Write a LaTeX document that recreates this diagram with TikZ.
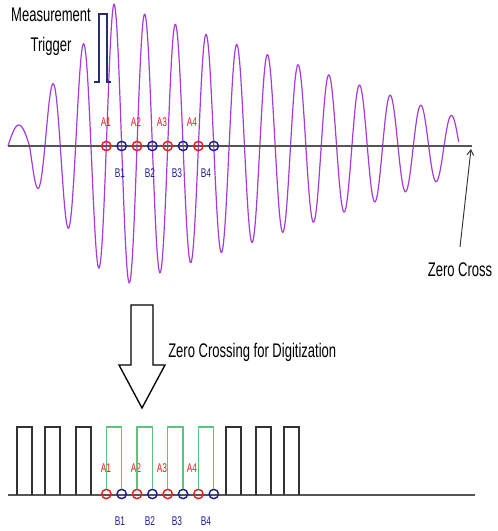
\documentclass[tikz,border=0pt]{standalone}
\usepackage{fontspec}
\setmainfont{Liberation Sans}
\newfontfamily\narrowfont[FakeStretch=0.66]{Liberation Sans}
\usetikzlibrary{arrows.meta}

\definecolor{wavepurple}{RGB}{165,60,215}
\definecolor{axisgrey}{RGB}{85,85,85}
\definecolor{crossred}{RGB}{235,30,30}
\definecolor{crossblue}{RGB}{30,30,150}
\definecolor{triggerblue}{RGB}{40,45,110}
\definecolor{pulsegreen}{RGB}{95,195,125}
\definecolor{pulseblack}{RGB}{50,50,50}

\tikzset{
  acircle/.style={circle,draw=crossred,line width=1.1pt,inner sep=0pt,minimum size=7pt},
  bcircle/.style={circle,draw=crossblue,line width=1.1pt,inner sep=0pt,minimum size=7pt},
  alabel/.style={text=crossred,font=\narrowfont\fontsize{9.5}{10}\selectfont,inner sep=0pt},
  blabel/.style={text=crossblue,font=\narrowfont\fontsize{9.5}{10}\selectfont,inner sep=0pt},
  caption/.style={font=\narrowfont\fontsize{14.8}{22.5}\selectfont,inner sep=0pt},
  digipulse/.style={pulseblack,line width=0.8pt},
  greenpulse/.style={pulsegreen,line width=0.9pt},
}

\begin{document}
\begin{tikzpicture}[x=0.75pt,y=0.75pt,yscale=-1,xscale=1,
  declare function={env(\t)=(\t<114) ? 1.3028*(\t-5) : 142-0.33*(\t-114);}]
\useasboundingbox (0,0) rectangle (498,531);

% analog signal
\draw[wavepurple,line width=0.9pt] plot[domain=8:29.6,samples=40]
  (\x,{146-21*sin(8.3333*(\x-8))});
\draw[wavepurple,line width=0.9pt] plot[domain=29.6:458.7,samples=700]
  (\x,{146-env(\x)*cos(11.7264*(\x-114))});
\draw[axisgrey,line width=1.8pt] (8,146) -- (472,146);

% trigger pulse
\draw[triggerblue,line width=1.4pt] (94,82) -- (99,82) -- (99,14) -- (107,14) -- (107,82) -- (111,82);
\node[caption,align=center,anchor=north] (trig) at (51,8) {Measurement\\Trigger};

% zero cross pointer
\node[caption] (zc) at (460,270) {Zero Cross};
\coordinate (zcfoot) at (460,247);
\coordinate (zctip) at (471,149);
\draw[pulseblack,line width=0.7pt,-{Straight Barb[length=4pt,width=5pt]}] (zcfoot) -- (zctip);

% digital signal
\coordinate (ptop) at (0,427);
\draw[axisgrey,line width=1.2pt] (8,495) -- (475,495);
\foreach \px in {17,45,76,226,256,284}
  \draw[digipulse] (\px,495) -- (\px,427) -- ++(15,0) -- ++(0,68);

% crossing points
\foreach \k/\lax/\lbx in {1/106/120,2/136/150,3/162/177,4/192/206}{
  \pgfmathsetmacro\ax{106.33+30.7*(\k-1)}
  \pgfmathsetmacro\bx{\ax+15.35}
  \node[acircle] (a\k) at (\ax,146) {};
  \node[bcircle] (b\k) at (\bx,146) {};
  \node[alabel] (la\k) at (\lax,122) {A\k};
  \node[blabel] (lb\k) at (\lbx,173) {B\k};
  \node[acircle] (da\k) at (\ax,494) {};
  \node[bcircle] (db\k) at (\bx,494) {};
  \node[alabel] (dla\k) at (\lax,468) {A\k};
  \node[blabel] (dlb\k) at (\lbx,521) {B\k};
  \draw[greenpulse] (da\k.north) -- (da\k.north |- ptop) -| (db\k.north);
}

% hollow arrow
\draw[line width=1pt,line join=miter] (131,305) -- (153,305) -- (153,365) -- (165,365) -- (142,408) -- (119,365) -- (131,365) -- cycle;
\node[caption,anchor=base west] (zcd) at (168,357) {Zero Crossing for Digitization};

\end{tikzpicture}
\end{document}
